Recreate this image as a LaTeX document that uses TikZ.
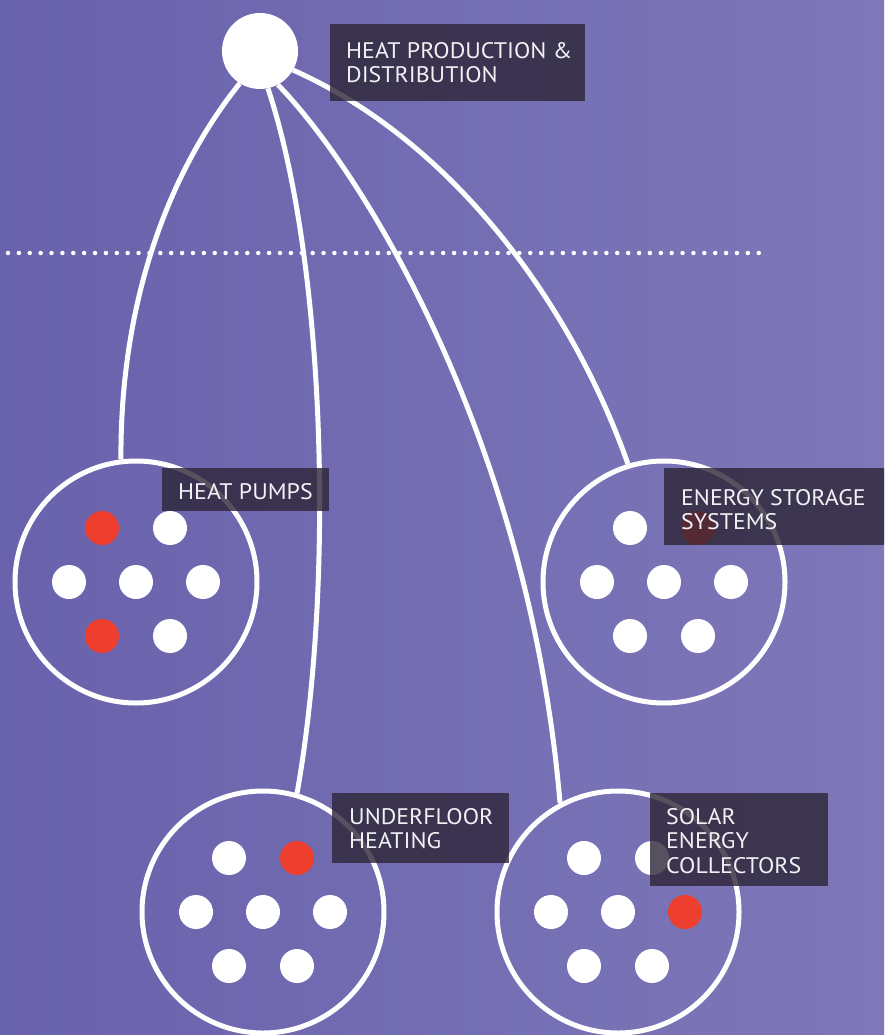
\documentclass[tikz,border=0pt]{standalone}
\usepackage{fontspec}
\setmainfont{PT Sans}
\newfontfamily\tagfont[FakeStretch=1.06]{PT Sans}
\definecolor{bgleft}{RGB}{105,98,172}
\definecolor{bgright}{RGB}{126,120,185}
\definecolor{hotred}{RGB}{238,63,46}
\definecolor{tagbg}{RGB}{45,37,54}
\definecolor{tagtextcol}{RGB}{242,242,246}
\begin{document}
\begin{tikzpicture}[x=1pt,y=-1pt,
  hub/.style={circle, fill=white, minimum size=76pt, inner sep=0pt},
  group/.style={circle, draw=white, line width=5pt, minimum size=242pt, inner sep=0pt},
  unit/.style={circle, fill=white, minimum size=34pt, inner sep=0pt},
  hot/.style={unit, fill=hotred},
  link/.style={draw=white, line width=5pt},
  tagbox/.style={rectangle, fill=tagbg, fill opacity=0.8, inner sep=0pt, anchor=north west},
  tagtext/.style={anchor=north west, inner sep=0pt, align=left, text=tagtextcol,
    font=\tagfont\fontsize{22.5}{24.5}\selectfont}
]
% canvas and background
\useasboundingbox (0,0) rectangle (884,1035);
\shade[left color=bgleft, right color=bgright] (0,0) rectangle (884,1035);
\clip (0,0) rectangle (884,1035);

% dotted divider
\coordinate (divl) at (8,253);
\coordinate (divr) at (762,253);
\draw[white, line width=4.5pt, line cap=round, dash pattern=on 0pt off 10.88pt] (divl) -- (divr);

% source and the four groups
\node[hub] (src) at (260,51) {};
\node[group] (hp) at (136,582) {};
\node[group] (es) at (664,582) {};
\node[group] (uf) at (263,912) {};
\node[group] (sc) at (618,912) {};

% connectors from the source
\draw[link] (src.238) .. controls (170,170) and (120,300) .. (hp.97);
\draw[link] (src.282) .. controls (325,260) and (335,580) .. (uf.74);
\draw[link] (src.298) .. controls (370,180) and (530,450) .. (sc.118);
\draw[link] (src.330) .. controls (450,140) and (570,300) .. (es.107);

% units inside each group
\foreach \g/\a/\b/\c/\d/\e/\f/\h in {
    hp/hot/unit/unit/unit/unit/hot/unit,
    es/unit/hot/unit/unit/unit/unit/unit,
    uf/unit/hot/unit/unit/unit/unit/unit,
    sc/unit/unit/unit/unit/hot/unit/unit}{
  \node[\a] (\g-1) at ([shift={(-34,-54)}]\g.center) {};
  \node[\b] (\g-2) at ([shift={(34,-54)}]\g.center) {};
  \node[\c] (\g-3) at ([shift={(-67,0)}]\g.center) {};
  \node[\d] (\g-4) at (\g.center) {};
  \node[\e] (\g-5) at ([shift={(67,0)}]\g.center) {};
  \node[\f] (\g-6) at ([shift={(-34,54)}]\g.center) {};
  \node[\h] (\g-7) at ([shift={(34,54)}]\g.center) {};
}

% labels
\node[tagbox, minimum width=255pt, minimum height=77pt] (srcbox) at (330,24) {};
\node[tagtext] (srctext) at (346,42) {HEAT PRODUCTION \&\\DISTRIBUTION};

\node[tagbox, minimum width=167pt, minimum height=43pt] (hpbox) at (162,468) {};
\node[tagtext] (hptext) at (178,483) {HEAT PUMPS};

\node[tagbox, minimum width=222pt, minimum height=77pt] (esbox) at (664,468) {};
\node[tagtext] (estext) at (681,489) {ENERGY STORAGE\\SYSTEMS};

\node[tagbox, minimum width=177pt, minimum height=70pt] (ufbox) at (332,793) {};
\node[tagtext] (uftext) at (349,808) {UNDERFLOOR\\HEATING};

\node[tagbox, minimum width=178pt, minimum height=93pt] (scbox) at (650,793) {};
\node[tagtext] (sctext) at (666,808) {SOLAR\\ENERGY\\COLLECTORS};
\end{tikzpicture}
\end{document}
